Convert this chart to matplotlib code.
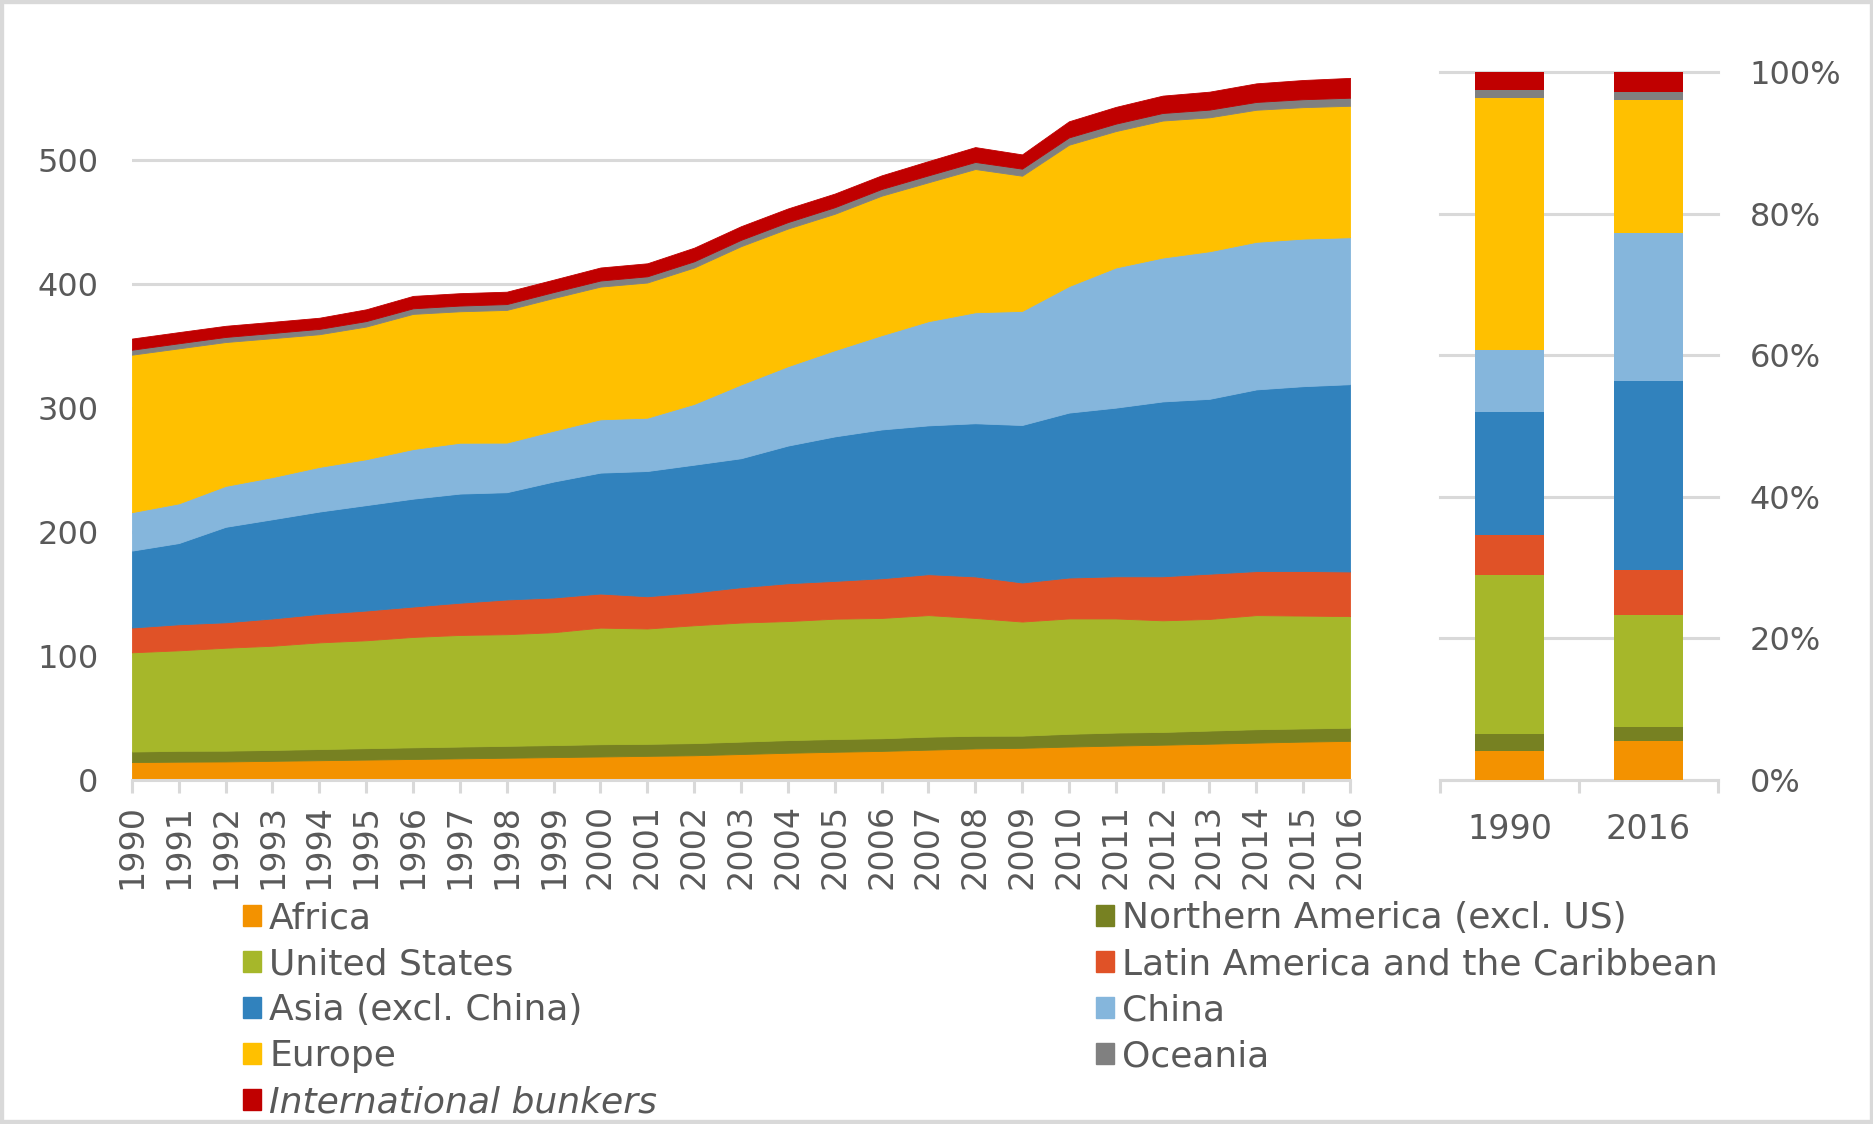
import matplotlib
matplotlib.use('Agg')
import matplotlib.pyplot as plt
from matplotlib.patches import Rectangle
import numpy as np

years = list(range(1990, 2017))

# stacked from bottom to top
africa = [14.5, 14.8, 15.0, 15.5, 16.0, 16.5, 17.0, 17.5, 18.0, 18.5, 19.0, 19.5, 20.0, 21.0,
          22.0, 22.8, 23.5, 24.5, 25.5, 26.0, 27.0, 27.8, 28.5, 29.3, 30.2, 31.0, 31.6]
n_america = [8.5, 8.8, 8.7, 8.8, 9.0, 9.2, 9.4, 9.5, 9.6, 9.7, 9.9, 9.7, 9.8, 10.0,
             10.2, 10.3, 10.2, 10.5, 10.2, 9.8, 10.3, 10.5, 10.3, 10.6, 10.8, 10.6, 10.6]
us = [80, 81, 83, 84, 86, 87, 89, 90, 90, 91, 94, 93, 95, 96,
      96, 97, 97, 98, 95, 92, 93, 92, 90, 90, 92, 91, 90]
latam = [20, 21, 20.5, 22, 23, 24, 24.5, 26, 28, 28, 27.5, 26, 26.5, 28.5,
         30.5, 30.5, 32, 33, 33.5, 31.5, 33, 34, 35.5, 36.5, 35.5, 36, 36]
asia = [62, 65.5, 77, 80, 82.5, 85, 87, 88, 86.5, 93.5, 97.5, 101, 103, 104,
        111, 116.5, 120, 120, 123.5, 127, 133, 136, 141, 141, 146.5, 149, 151]
china = [31, 32, 33, 34, 36, 37, 40, 41, 40, 41, 43, 43, 49, 59.5,
         64, 69.5, 76, 84, 89.5, 92, 102, 113, 116, 119, 119, 119, 118.5]
europe = [127, 125, 116, 112, 107, 107, 109, 106, 107, 107, 107, 109, 110, 111.5,
          111, 110, 112.5, 112, 115.5, 109, 114, 110, 110.5, 108, 106.5, 106, 106]
oceania = [4.0, 4.1, 4.1, 4.2, 4.3, 4.4, 4.5, 4.6, 4.7, 4.8, 4.9, 5.0, 5.0, 5.1,
           5.2, 5.3, 5.4, 5.6, 5.7, 5.7, 5.9, 6.0, 6.1, 6.2, 6.3, 6.4, 6.5]
bunkers = [9, 9, 9, 9, 9, 9.5, 10, 10, 10, 10, 10.5, 10.5, 11, 11,
           11, 11, 11, 11.5, 12, 11.5, 13, 13.5, 14, 14.5, 15, 15.5, 16]

names = ['Africa', 'Northern America (excl. US)', 'United States',
         'Latin America and the Caribbean', 'Asia (excl. China)', 'China',
         'Europe', 'Oceania', 'International bunkers']
series = [africa, n_america, us, latam, asia, china, europe, oceania, bunkers]
colors = ['#F39200', '#778122', '#A6B72A', '#E05227', '#3182BD',
          '#85B6DC', '#FFC000', '#808080', '#C00000']

bar_labels = ['1990', '2016']

grid_c = '#d9d9d9'
txt_c = '#595959'
plt.rcParams['font.family'] = ['DejaVu Sans']

fig = plt.figure(figsize=(18.74, 11.24), dpi=100)

# main stacked area chart
ax = fig.add_axes([0.0704, 0.306, 0.650, 0.630])
polys = ax.stackplot(years, *series, colors=colors, lw=0.6)
for p, c in zip(polys, colors):
    p.set_edgecolor(c)
ax.set_xlim(1990, 2016)
ax.set_ylim(0, 571)
ax.set_yticks([0, 100, 200, 300, 400, 500])
ax.grid(axis='y', color=grid_c, lw=2.2)
ax.set_axisbelow(True)
for s in ['left', 'right', 'top']:
    ax.spines[s].set_visible(False)
ax.spines['bottom'].set_color(grid_c)
ax.spines['bottom'].set_linewidth(2.2)
ax.set_xticks(years)
ax.set_xticklabels([str(y) for y in years], rotation=90)
ax.tick_params(axis='y', length=0, pad=24, labelsize=23, labelcolor=txt_c)
ax.tick_params(axis='x', length=9, width=2.2, color=grid_c, pad=8,
               labelsize=24, labelcolor=txt_c)

# 100% bars for first and last year
bx = fig.add_axes([0.7684, 0.306, 0.1483, 0.630])
tot0 = sum(s[0] for s in series)
tot1 = sum(s[-1] for s in series)
bottom = np.zeros(2)
for s, c in zip(series, colors):
    share = np.array([s[0] / tot0, s[-1] / tot1])
    bx.bar([0, 1], share, 0.5, bottom=bottom, color=c, zorder=3)
    bottom += share
bx.set_xlim(-0.5, 1.5)
bx.set_ylim(0, 1)
bx.yaxis.tick_right()
bx.set_yticks([0, 0.2, 0.4, 0.6, 0.8, 1.0])
bx.set_yticklabels(['0%', '20%', '40%', '60%', '80%', '100%'])
bx.grid(axis='y', color=grid_c, lw=2.2, zorder=0)
for gl in bx.get_ygridlines():
    gl.set_clip_on(False)
for s in ['left', 'right', 'top']:
    bx.spines[s].set_visible(False)
bx.spines['bottom'].set_color(grid_c)
bx.spines['bottom'].set_linewidth(2.2)
bx.set_xticks([0, 1])
bx.set_xticklabels(bar_labels)
bx.set_xticks([-0.5, 0.5, 1.5], minor=True)
bx.tick_params(axis='x', which='major', length=0, pad=24, labelsize=24, labelcolor=txt_c)
bx.tick_params(axis='x', which='minor', length=9, width=2.2, color=grid_c)
bx.tick_params(axis='y', length=0, pad=23, labelsize=23, labelcolor=txt_c)

# legend in two columns
handles = [Rectangle((0, 0), 1, 1, color=c) for c in colors]
left_idx = [0, 2, 4, 6, 8]
right_idx = [1, 3, 5, 7]
leg_kw = dict(frameon=False, fontsize=26, handlelength=0.5, handleheight=0.5,
              handletextpad=0.22, labelspacing=0.33, borderpad=0, borderaxespad=0,
              labelcolor=txt_c, loc='upper left')
leg1 = fig.legend([handles[i] for i in left_idx], [names[i] for i in left_idx],
                  bbox_to_anchor=(0.1297, 0.198), **leg_kw)
leg1.get_texts()[-1].set_style('italic')
fig.legend([handles[i] for i in right_idx], [names[i] for i in right_idx],
           bbox_to_anchor=(0.585, 0.198), **leg_kw)

# light frame round the figure
fig.add_artist(Rectangle((0, 0), 1, 1, transform=fig.transFigure, fill=False,
                         ec=grid_c, lw=6))

fig.savefig('out.png', dpi=100, facecolor='white')
